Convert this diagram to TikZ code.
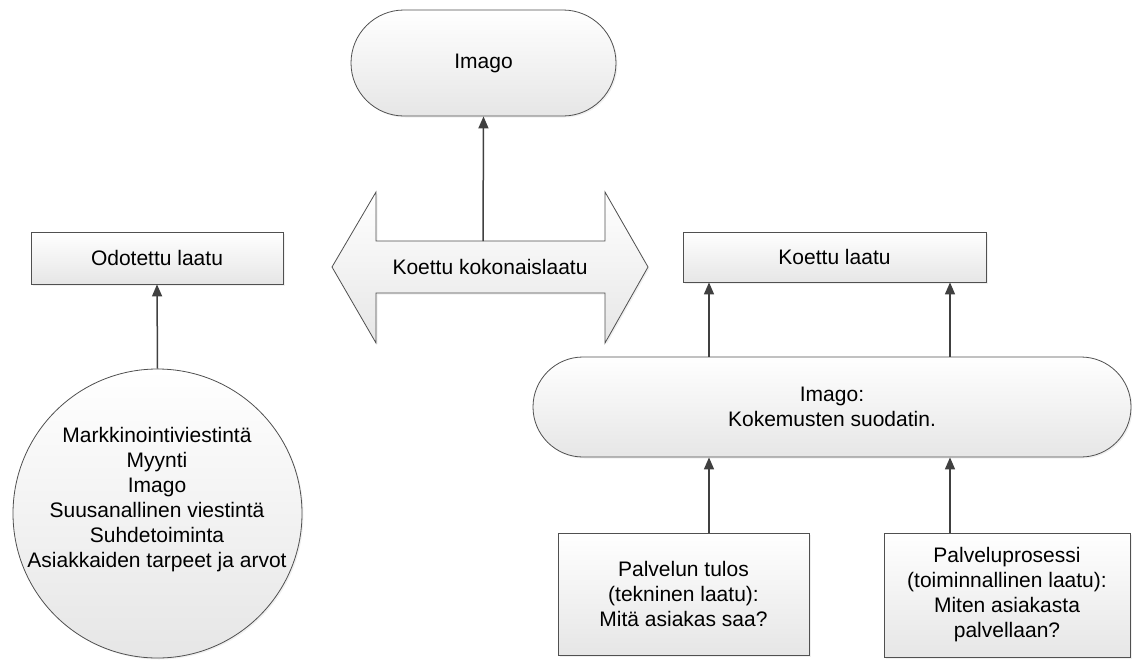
\documentclass[tikz,border=0pt]{standalone}
\usepackage{fontspec}
\setmainfont{Liberation Sans}
\usetikzlibrary{arrows.meta,shadows}
\definecolor{edge}{RGB}{80,80,80}
\definecolor{arr}{RGB}{64,64,64}
\definecolor{fillbot}{RGB}{230,230,230}
\begin{document}
\begin{tikzpicture}[x=1pt,y=-1pt,
  fillstyle/.style={draw=edge, line width=0.8pt, top color=white, bottom color=fillbot,
    drop shadow={opacity=0.12,shadow xshift=1.5pt,shadow yshift=-1.5pt}},
  shapebase/.style={fillstyle, font=\fontsize{21}{25}\selectfont, align=center, inner sep=0pt},
  boxnode/.style={shapebase, rectangle},
  stadium/.style={shapebase, rectangle, rounded corners=#1},
  txt/.style={font=\fontsize{21}{25}\selectfont, align=center, inner sep=0pt},
  conn/.style={draw=arr, line width=1.5pt, -{Triangle[length=12pt,width=10pt]}}]
\useasboundingbox (0,0) rectangle (1132,659);

% top Imago
\node[stadium=53pt, minimum width=265pt, minimum height=106pt] (imago) at (483.5,63) {Imago};

% double arrow
\draw[fillstyle] (332,267) -- (376,192) -- (376,241) -- (605,241) -- (605,192) -- (648,267)
  -- (605,343) -- (605,293) -- (376,293) -- (376,343) -- cycle;
\node[txt] (koko) at (490,267) {Koettu kokonaislaatu};
\coordinate (kokotop) at (483,241);

% left side
\node[boxnode, minimum width=252pt, minimum height=52pt] (odo) at (157,258) {Odotettu laatu};
\node[shapebase, circle, minimum size=289pt] (circ) at (157.5,513.5) {};
\node[txt] (circtext) at (157,500) {Markkinointiviestintä\\Myynti\\Imago\\Suusanallinen viestintä\\Suhdetoiminta\\Asiakkaiden tarpeet ja arvot};

% right side
\node[boxnode, minimum width=303pt, minimum height=50pt] (koettu) at (834.5,257) {Koettu laatu};
\node[stadium=50pt, minimum width=598pt, minimum height=100pt] (suod) at (832,407) {Imago:\\Kokemusten suodatin.};
\node[boxnode, minimum width=251pt, minimum height=122pt] (tulos) at (683.5,594) {Palvelun tulos\\(tekninen laatu):\\Mitä asiakas saa?};
\node[boxnode, minimum width=246pt, minimum height=124pt] (prosessi) at (1007,595) {Palveluprosessi\\(toiminnallinen laatu):\\Miten asiakasta\\palvellaan?};

\coordinate (k1) at (709,0);
\coordinate (k2) at (950,0);

% connectors
\draw[conn] (kokotop) -- (imago.south);
\draw[conn] (circ.north) -- (odo.south);
\draw[conn] (k1 |- suod.north) -- (k1 |- koettu.south);
\draw[conn] (k2 |- suod.north) -- (k2 |- koettu.south);
\draw[conn] (k1 |- tulos.north) -- (k1 |- suod.south);
\draw[conn] (k2 |- prosessi.north) -- (k2 |- suod.south);
\end{tikzpicture}
\end{document}
